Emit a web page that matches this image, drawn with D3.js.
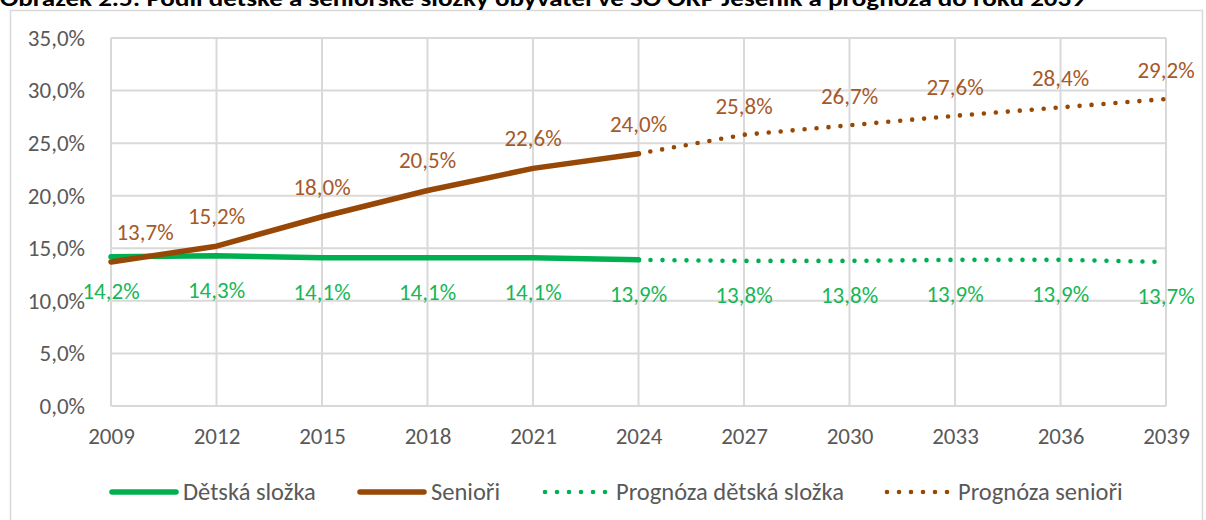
<!DOCTYPE html>
<html>
<head>
<meta charset="utf-8">
<script src="https://cdn.jsdelivr.net/npm/d3@7"></script>
<style>
  body { margin: 0; background: #fff; }
  svg { display: block; }
  text { font-family: Carlito, Calibri, "Open Sans", sans-serif; }
</style>
</head>
<body>
<svg id="chart" width="1206" height="520"></svg>
<script>
// years on the x axis
var years = [2009, 2012, 2015, 2018, 2021, 2024, 2027, 2030, 2033, 2036, 2039];
// observed values (%)
var childYears = [2009, 2012, 2015, 2018, 2021, 2024];
var childValues = [14.2, 14.3, 14.1, 14.1, 14.1, 13.9];
var seniorValues = [13.7, 15.2, 18.0, 20.5, 22.6, 24.0];
// forecast values (%), starting at 2024
var forecastYears = [2024, 2027, 2030, 2033, 2036, 2039];
var childForecast = [13.9, 13.8, 13.8, 13.9, 13.9, 13.7];
var seniorForecast = [24.0, 25.8, 26.7, 27.6, 28.4, 29.2];
var yTicks = [0, 5, 10, 15, 20, 25, 30, 35];
var legendLabels = ["Dětská složka", "Senioři", "Prognóza dětská složka", "Prognóza senioři"];
var title = "Obrázek 2.5: Podíl dětské a seniorské složky obyvatel ve SO ORP Jeseník a prognóza do roku 2039";

var green = "#00b050", greenText = "#17b757";
var brown = "#974806", brownText = "#a5592a";
var gray = "#595959", gridColor = "#d9d9d9";
var fontSize = 23;
var legendFontSize = 24.5;
var fontFamily = "Carlito, Calibri, 'Open Sans', sans-serif";

var svg = d3.select("#chart");

// chart frame
svg.append("rect")
    .attr("x", 10.5).attr("y", 10.5)
    .attr("width", 1192).attr("height", 520)
    .attr("fill", "#fff")
    .attr("stroke", gridColor).attr("stroke-width", 1.5);

// title, cut at the top like in the source
svg.append("text")
    .attr("x", 0).attr("y", 6)
    .attr("font-size", 22).attr("font-weight", "bold")
    .attr("textLength", 1085).attr("lengthAdjust", "spacingAndGlyphs")
    .attr("fill", "#000")
    .text(title);

var x = d3.scalePoint().domain(years).range([111, 1166]);
var y = d3.scaleLinear().domain([0, 35]).range([406, 38]);

var fmt = function(v) { return d3.format(".1f")(v).replace(".", ",") + "%"; };

// grid
var grid = svg.append("g");
grid.selectAll("line.h")
    .data(yTicks)
    .enter()
    .append("line")
    .attr("x1", x(years[0])).attr("x2", x(years[years.length - 1]))
    .attr("y1", function(d) { return y(d); })
    .attr("y2", function(d) { return y(d); })
    .attr("stroke", gridColor).attr("stroke-width", 2);
grid.selectAll("line.v")
    .data(years)
    .enter()
    .append("line")
    .attr("x1", function(d) { return x(d); })
    .attr("x2", function(d) { return x(d); })
    .attr("y1", y(35)).attr("y2", y(0))
    .attr("stroke", gridColor).attr("stroke-width", 2);

// axes (labels only)
var yAxis = svg.append("g")
    .attr("transform", "translate(88,0)")
    .call(d3.axisLeft(y).tickValues(yTicks).tickSize(0).tickFormat(fmt));
yAxis.select(".domain").remove();
yAxis.selectAll("text")
    .attr("font-size", fontSize).attr("fill", gray)
    .attr("font-family", fontFamily);

var xAxis = svg.append("g")
    .attr("transform", "translate(0," + 425 + ")")
    .call(d3.axisBottom(x).tickSize(0).tickFormat(d3.format("d")));
xAxis.select(".domain").remove();
xAxis.selectAll("text")
    .attr("font-size", fontSize).attr("fill", gray)
    .attr("font-family", fontFamily);

var line = d3.line()
    .x(function(d) { return x(d[0]); })
    .y(function(d) { return y(d[1]); });

function styleStroke(sel, color, dotted) {
    sel.attr("fill", "none")
        .attr("stroke", color)
        .attr("stroke-linecap", "round")
        .attr("stroke-linejoin", "round");
    if (dotted) sel.attr("stroke-width", 4.6).attr("stroke-dasharray", "0 12");
    else sel.attr("stroke-width", 5.5);
}

function drawSeries(xs, vs, color, dotted) {
    svg.append("path")
        .datum(d3.zip(xs, vs))
        .attr("d", line)
        .call(styleStroke, color, dotted);
}

drawSeries(forecastYears, childForecast, green, true);
drawSeries(forecastYears, seniorForecast, brown, true);
drawSeries(childYears, childValues, green, false);
drawSeries(childYears, seniorValues, brown, false);

function drawLabels(xs, vs, color, dy, firstShift) {
    svg.append("g").selectAll("text")
        .data(d3.zip(xs, vs))
        .enter()
        .append("text")
        .attr("x", function(d, i) { return x(d[0]) + (i === 0 ? firstShift : 0); })
        .attr("y", function(d) { return y(d[1]) + dy; })
        .attr("text-anchor", "middle")
        .attr("dominant-baseline", "central")
        .attr("font-size", fontSize)
        .attr("fill", color)
        .text(function(d) { return fmt(d[1]); });
}

drawLabels(childYears, seniorValues, brownText, -30, 34);
drawLabels(forecastYears.slice(1), seniorForecast.slice(1), brownText, -29, 0);
drawLabels(childYears, childValues, greenText, 34, 0);
drawLabels(forecastYears.slice(1), childForecast.slice(1), greenText, 34, 0);

// legend
var legendItems = [
    {label: legendLabels[0], color: green, dotted: false, x: 110},
    {label: legendLabels[1], color: brown, dotted: false, x: 358},
    {label: legendLabels[2], color: green, dotted: true, x: 543},
    {label: legendLabels[3], color: brown, dotted: true, x: 885}
];
var legend = svg.append("g").attr("transform", "translate(0,492)");
legendItems.forEach(function(it) {
    legend.append("line")
        .attr("x1", it.x + 2).attr("x2", it.x + 66)
        .attr("y1", 0).attr("y2", 0)
        .call(styleStroke, it.color, it.dotted);
    legend.append("text")
        .attr("x", it.x + 73).attr("y", 0)
        .attr("dominant-baseline", "central")
        .attr("font-size", legendFontSize).attr("fill", gray)
        .text(it.label);
});
</script>
</body>
</html>
